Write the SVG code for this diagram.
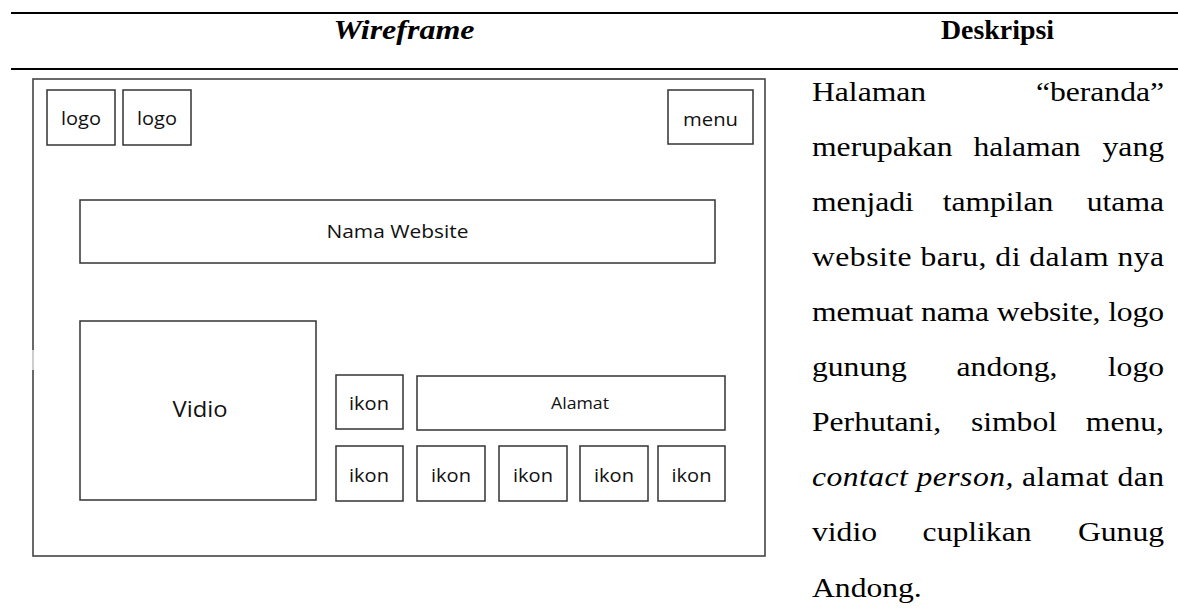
<svg xmlns="http://www.w3.org/2000/svg" width="1178" height="614" viewBox="0 0 1178 614">
<style>
.rule{stroke:#000;stroke-width:2.2;fill:none}
.box{fill:#fff;stroke:#333;stroke-width:1.5}
.frame{fill:#fff;stroke:#444;stroke-width:1.6}
.lbl{font-family:"Open Sans","Liberation Sans",sans-serif;fill:#111;text-anchor:middle}
.hd{font-family:"Liberation Serif","Times New Roman",serif;font-size:27.5px;font-weight:bold;fill:#000}
.tx{font-family:"Liberation Serif","Times New Roman",serif;font-size:27.5px;fill:#000}
.e{text-anchor:end}
.m{text-anchor:middle}
</style>
<rect width="1178" height="614" fill="#fff"/>
<g id="table-rules">
<line class="rule" x1="11" y1="13" x2="1178" y2="13"/>
<line class="rule" x1="11" y1="69" x2="1178" y2="69"/>
</g>
<g id="headers">
<text class="hd m" x="404" y="39" font-style="italic" textLength="141" lengthAdjust="spacingAndGlyphs">Wireframe</text>
<text class="hd" x="941" y="39" textLength="113" lengthAdjust="spacingAndGlyphs">Deskripsi</text>
</g>
<g id="page-frame"><rect class="frame" x="33" y="79" width="732" height="477"/><line x1="33" y1="350" x2="33" y2="370" stroke="#d8d8d8" stroke-width="1.8"/></g>
<g id="logo1"><rect class="box" x="47" y="90" width="68" height="55"/><text class="lbl" x="81" y="125" font-size="19" textLength="40" lengthAdjust="spacingAndGlyphs">logo</text></g>
<g id="logo2"><rect class="box" x="123" y="90" width="68" height="55"/><text class="lbl" x="157" y="125" font-size="19" textLength="40" lengthAdjust="spacingAndGlyphs">logo</text></g>
<g id="menu"><rect class="box" x="668" y="90" width="85" height="54"/><text class="lbl" x="710.5" y="125.5" font-size="19" textLength="55" lengthAdjust="spacingAndGlyphs">menu</text></g>
<g id="nama-website"><rect class="box" x="80" y="200" width="635" height="63"/><text class="lbl" x="397.5" y="238" font-size="19" textLength="142" lengthAdjust="spacingAndGlyphs">Nama Website</text></g>
<g id="vidio"><rect class="box" x="80" y="321" width="236" height="179"/><text class="lbl" x="200" y="417" font-size="21" textLength="55" lengthAdjust="spacingAndGlyphs">Vidio</text></g>
<g id="ikon1"><rect class="box" x="336" y="375" width="67" height="54"/><text class="lbl" x="369" y="410" font-size="19" textLength="40" lengthAdjust="spacingAndGlyphs">ikon</text></g>
<g id="alamat"><rect class="box" x="417" y="376" width="308" height="54"/><text class="lbl" x="580" y="409" font-size="16" textLength="58" lengthAdjust="spacingAndGlyphs">Alamat</text></g>
<g id="ikon2"><rect class="box" x="336" y="446" width="67" height="55"/><text class="lbl" x="369" y="482" font-size="19" textLength="40" lengthAdjust="spacingAndGlyphs">ikon</text></g>
<g id="ikon3"><rect class="box" x="417" y="446" width="68" height="55"/><text class="lbl" x="451" y="482" font-size="19" textLength="40" lengthAdjust="spacingAndGlyphs">ikon</text></g>
<g id="ikon4"><rect class="box" x="499" y="446" width="68" height="55"/><text class="lbl" x="533" y="482" font-size="19" textLength="40" lengthAdjust="spacingAndGlyphs">ikon</text></g>
<g id="ikon5"><rect class="box" x="580" y="446" width="68" height="55"/><text class="lbl" x="614" y="482" font-size="19" textLength="40" lengthAdjust="spacingAndGlyphs">ikon</text></g>
<g id="ikon6"><rect class="box" x="658" y="446" width="67" height="55"/><text class="lbl" x="691.5" y="482" font-size="19" textLength="40" lengthAdjust="spacingAndGlyphs">ikon</text></g>
<g id="connectors"></g>
<g id="deskripsi-text" transform="scale(1.15,1)">
<text class="tx" x="706.1" y="101">Halaman</text>
<text class="tx e" x="1012.2" y="101">“beranda”</text>
<text class="tx" x="706.1" y="156">merupakan</text>
<text class="tx m" x="893" y="156">halaman</text>
<text class="tx e" x="1012.2" y="156">yang</text>
<text class="tx" x="706.1" y="211">menjadi</text>
<text class="tx m" x="867.8" y="211">tampilan</text>
<text class="tx e" x="1012.2" y="211">utama</text>
<text class="tx" x="706.1" y="266" textLength="306.1" lengthAdjust="spacing">website baru, di dalam nya</text>
<text class="tx" x="706.1" y="321" textLength="306.1" lengthAdjust="spacing">memuat nama website, logo</text>
<text class="tx" x="706.1" y="376">gunung</text>
<text class="tx m" x="875.7" y="376">andong,</text>
<text class="tx e" x="1012.2" y="376">logo</text>
<text class="tx" x="706.1" y="431">Perhutani,</text>
<text class="tx m" x="881.7" y="431">simbol</text>
<text class="tx e" x="1012.2" y="431">menu,</text>
<text class="tx" x="706.1" y="486" textLength="306.1" lengthAdjust="spacing"><tspan font-style="italic">contact person,</tspan> alamat dan</text>
<text class="tx" x="706.1" y="541">vidio</text>
<text class="tx m" x="849.6" y="541">cuplikan</text>
<text class="tx e" x="1012.2" y="541">Gunug</text>
<text class="tx" x="706.1" y="597">Andong.</text>
</g>
</svg>
